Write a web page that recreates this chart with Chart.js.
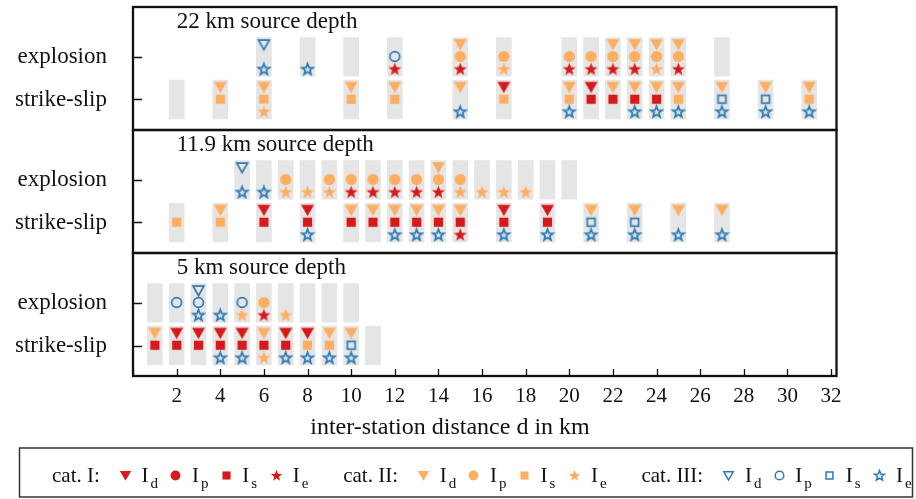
<!DOCTYPE html>
<html>
<head>
<meta charset="utf-8">
<script src="https://cdn.jsdelivr.net/npm/chart.js@4.4.0/dist/chart.umd.min.js"></script>
<style>
  html, body { margin: 0; padding: 0; background: #fff; }
</style>
</head>
<body>
<canvas id="chart" width="916" height="499"></canvas>
<script>
// panels from top to bottom
const panelTitles = ['22 km source depth', '11.9 km source depth', '5 km source depth'];
const rowLabels = ['explosion', 'strike-slip'];
const xTicks = [0, 2, 4, 6, 8, 10, 12, 14, 16, 18, 20, 22, 24, 26, 28, 30, 32];

// picks per station: category (1, 2, 3) of I_d, I_p (explosion) / I_s (strike-slip), I_e; '.' = none
const exp22Km    = [6, 8, 10, 12, 15, 17, 20, 21, 22, 23, 24, 25, 27];
const exp22Picks = ['3.3', '..3', '...', '.31', '221', '.22', '.21', '.21', '221', '221', '222', '221', '...'];
const ss22Km     = [2, 4, 6, 10, 12, 15, 17, 20, 21, 22, 23, 24, 25, 27, 29, 31];
const ss22Picks  = ['...', '22.', '222', '22.', '22.', '2.3', '12.', '223', '11.', '21.', '213', '213', '223', '233', '233', '223'];

const exp12Km    = [5, 6, 7, 8, 9, 10, 11, 12, 13, 14, 15, 16, 17, 18, 19, 20];
const exp12Picks = ['3.3', '..3', '.22', '..2', '.22', '.21', '.21', '.21', '.21', '221', '.22', '..2', '..2', '..2', '...', '...'];
const ss12Km     = [2, 4, 6, 8, 10, 11, 12, 13, 14, 15, 17, 19, 21, 23, 25, 27];
const ss12Picks  = ['.2.', '22.', '11.', '113', '21.', '21.', '213', '213', '213', '211', '113', '113', '233', '233', '2.3', '2.3'];

const exp5Km     = [1, 2, 3, 4, 5, 6, 7, 8, 9, 10];
const exp5Picks  = ['...', '.3.', '333', '..3', '.32', '.21', '..2', '...', '...', '...'];
const ss5Km      = [1, 2, 3, 4, 5, 6, 7, 8, 9, 10, 11];
const ss5Picks   = ['21.', '11.', '11.', '113', '113', '212', '113', '123', '223', '233', '...'];

const rows = [
  [exp22Km, exp22Picks], [ss22Km, ss22Picks],
  [exp12Km, exp12Picks], [ss12Km, ss12Picks],
  [exp5Km, exp5Picks], [ss5Km, ss5Picks]
];

const catColors = { 1: '#d7191c', 2: '#fdae61', 3: '#2c7bb6' };
const SERIF = '"Liberation Serif", "Times New Roman", serif';

// y layout in panel units (reversed axis, 0 at top)
const PANEL_H = 12.3;
const ROW_OFF = [4.98, 9.25];
const PICK_OFF = [-1.24, -0.03, 1.23];
const BAR_HALF = 1.93;
const rowY = r => Math.floor(r / 2) * PANEL_H + ROW_OFF[r % 2];

function makeMarker(shape, color, open, k) {
  k = k || 1;
  const s = Math.ceil(17 * k);
  const c = document.createElement('canvas');
  c.width = s; c.height = s;
  const g = c.getContext('2d');
  g.translate(s / 2, s / 2);
  g.scale(k, k);
  g.beginPath();
  if (shape === 'd') {
    if (open) { g.moveTo(-5.4, -4.4); g.lineTo(5.4, -4.4); g.lineTo(0, 5.2); }
    else { g.moveTo(-6.4, -5.2); g.lineTo(6.4, -5.2); g.lineTo(0, 6.0); }
    g.closePath();
  } else if (shape === 'p' ) {
    g.arc(0, 0, open ? 4.9 : 5.6, 0, Math.PI * 2);
  } else if (shape === 's') {
    const h = open ? 3.9 : 4.6;
    g.rect(-h, -h, 2 * h, 2 * h);
  } else {
    const R = open ? 5.9 : 6.8, r = R * 0.42;
    for (let i = 0; i < 10; i++) {
      const a = -Math.PI / 2 + i * Math.PI / 5;
      const rr = i % 2 ? r : R;
      g.lineTo(Math.cos(a) * rr, Math.sin(a) * rr + 0.4);
    }
    g.closePath();
  }
  if (open) { g.lineWidth = 1.7; g.lineJoin = 'miter'; g.strokeStyle = color; g.stroke(); }
  else { g.fillStyle = color; g.fill(); }
  return c;
}

// gray station bars
const barData = [];
rows.forEach(([km], r) => {
  km.forEach(x => barData.push({ x: x, y: [rowY(r) - BAR_HALF, rowY(r) + BAR_HALF] }));
});

// marker datasets: one per category and pick type
const markerSets = {};
['1', '2', '3'].forEach(cat => {
  ['d', 'p', 's', 'e'].forEach(kind => {
    markerSets[cat + kind] = {
      type: 'scatter',
      data: [],
      pointStyle: makeMarker(kind, catColors[cat], cat === '3'),
      pointRadius: 6,
      order: 1
    };
  });
});
rows.forEach(([km, picks], r) => {
  km.forEach((x, i) => {
    const code = picks[i];
    for (let j = 0; j < 3; j++) {
      const cat = code[j];
      if (cat === '.') continue;
      const kind = j === 0 ? 'd' : j === 2 ? 'e' : (r % 2 === 0 ? 'p' : 's');
      markerSets[cat + kind].data.push({ x: x, y: rowY(r) + PICK_OFF[j] });
    }
  });
});

const decor = {
  id: 'decor',
  afterDraw(chart) {
    const { ctx, chartArea: a, scales: { x, y } } = chart;
    ctx.save();
    ctx.fillStyle = '#111';
    ctx.strokeStyle = '#111';

    // panel titles
    ctx.font = '23px ' + SERIF;
    ctx.textAlign = 'left';
    ctx.textBaseline = 'alphabetic';
    panelTitles.forEach((t, p) => {
      ctx.fillText(t, x.getPixelForValue(2), y.getPixelForValue(p * PANEL_H + 2.05));
    });

    // inward ticks
    ctx.lineWidth = 1.3;
    ctx.beginPath();
    y.ticks.forEach(t => {
      const py = Math.round(y.getPixelForValue(t.value)) + 0.5;
      ctx.moveTo(a.left, py); ctx.lineTo(a.left + 9, py);
    });
    x.ticks.forEach(t => {
      const px = Math.round(x.getPixelForValue(t.value)) + 0.5;
      ctx.moveTo(px, a.bottom); ctx.lineTo(px, a.bottom - 7);
    });
    ctx.stroke();

    // panel frames
    ctx.lineWidth = 2.3;
    panelTitles.forEach((t, p) => {
      const top = y.getPixelForValue(p * PANEL_H);
      const bot = y.getPixelForValue((p + 1) * PANEL_H);
      ctx.strokeRect(a.left, top, a.right - a.left, bot - top);
    });

    // axis title
    ctx.font = '24px ' + SERIF;
    ctx.textAlign = 'center';
    ctx.fillText('inter-station distance d in km', 450, 434);

    // legend
    ctx.lineWidth = 1.5;
    ctx.strokeStyle = '#333';
    ctx.strokeRect(19.5, 448, 893, 49);
    ctx.textAlign = 'left';
    let cx = 52;
    [['cat. I:', '1'], ['cat. II:', '2'], ['cat. III:', '3']].forEach(([label, cat]) => {
      ctx.font = '21px ' + SERIF;
      ctx.fillText(label, cx, 482);
      cx += ctx.measureText(label).width + 25.5;
      ['d', 'p', 's', 'e'].forEach((kind, ki) => {
        const m = makeMarker(kind, catColors[cat], cat === '3', 0.88);
        ctx.drawImage(m, Math.round(cx - m.width / 2), Math.round(475 - m.height / 2));
        const ix = cx + 16.2;
        ctx.font = '21px ' + SERIF;
        ctx.fillText('I', ix, 482);
        ctx.font = '15px ' + SERIF;
        ctx.fillText(kind, ix + 9, 488);
        cx = ki < 3 ? ix + 34.2 : ix + 50.5;
      });
    });
    ctx.restore();
  }
};

new Chart(document.getElementById('chart'), {
  type: 'scatter',
  data: {
    datasets: [
      {
        type: 'bar',
        data: barData,
        backgroundColor: '#e5e5e5',
        borderWidth: 0,
        barThickness: 15,
        order: 10
      },
      ...Object.values(markerSets)
    ]
  },
  options: {
    responsive: false,
    animation: false,
    events: [],
    layout: { padding: { top: 7, right: 79.5, bottom: 59, left: 0 } },
    plugins: {
      legend: { display: false },
      tooltip: { enabled: false }
    },
    scales: {
      x: {
        type: 'linear',
        min: 0,
        max: 32.25,
        offset: false,
        afterBuildTicks: s => { s.ticks = xTicks.map(v => ({ value: v })); },
        afterFit: s => { s.height = 64; s.paddingLeft = 0; s.paddingRight = 0; },
        grid: { display: false, offset: false },
        border: { display: false },
        ticks: {
          callback: v => (v === 0 ? '' : v),
          font: { family: SERIF, size: 21, lineHeight: 1 },
          color: '#111',
          padding: 2,
          maxRotation: 0
        }
      },
      y: {
        type: 'linear',
        reverse: true,
        min: 0,
        max: 3 * PANEL_H,
        afterBuildTicks: s => { s.ticks = rows.map((row, r) => ({ value: rowY(r) })); },
        afterFit: s => { s.width = 133; s.paddingTop = 0; s.paddingBottom = 0; },
        grid: { display: false },
        border: { display: false },
        ticks: {
          callback: (v, i) => rowLabels[i % 2],
          font: { family: SERIF, size: 23 },
          color: '#111',
          padding: 18
        }
      }
    }
  },
  plugins: [decor]
});
</script>
</body>
</html>
